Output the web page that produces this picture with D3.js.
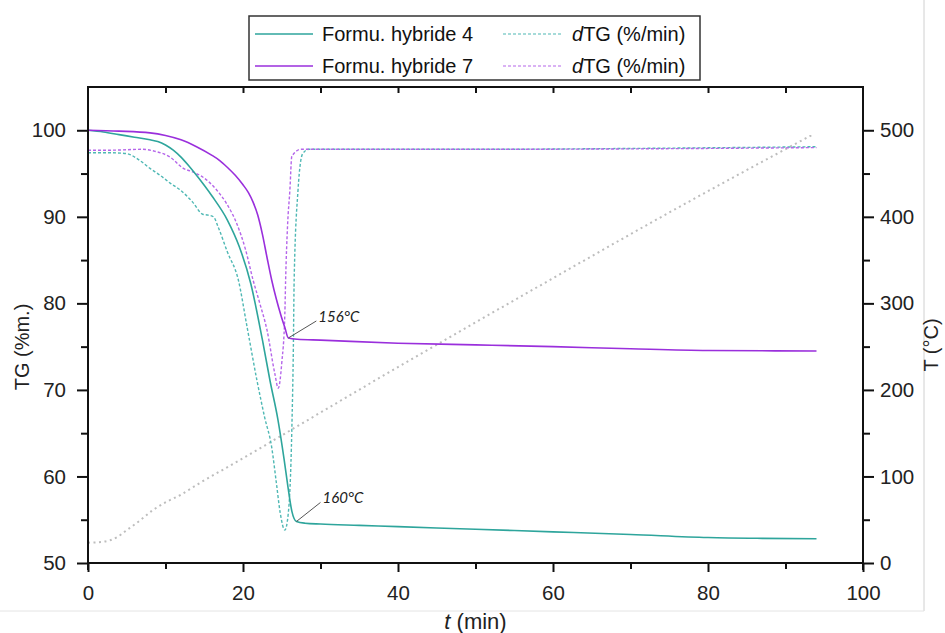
<!DOCTYPE html>
<html>
<head>
<meta charset="utf-8">
<script src="https://cdn.jsdelivr.net/npm/d3@7"></script>
<style>
  html, body { margin: 0; padding: 0; background: #fff; }
  svg { display: block; }
</style>
</head>
<body>
<svg id="chart" width="945" height="633"></svg>
<script>
// ---------- DATA ----------
// Formu. hybride 4 : TG (%m.)
const t_TG4 = [0, 2, 4, 6, 8, 9, 10, 11, 12, 13, 14, 16, 18, 19.5, 21, 22.5, 23.5, 24.5, 25.3, 25.8, 26.3, 26.9, 28, 30, 35, 40, 50, 60, 70, 80, 87, 94];
const TG4   = [100, 99.8, 99.5, 99.2, 98.9, 98.7, 98.3, 97.7, 96.9, 95.9, 94.8, 92.4, 89.6, 86.6, 82.3, 75.8, 71.0, 66.6, 62.0, 58.8, 56.0, 54.8, 54.6, 54.5, 54.35, 54.2, 53.9, 53.6, 53.3, 52.95, 52.85, 52.8];
// Formu. hybride 7 : TG (%m.)
const t_TG7 = [0, 4, 8, 10, 12, 14, 16, 17, 18, 19, 20, 20.7, 21.3, 21.9, 22.5, 23.1, 23.7, 24.3, 24.9, 25.4, 25.85, 27, 30, 40, 50, 60, 70, 80, 94];
const TG7   = [100, 99.9, 99.7, 99.4, 98.9, 98.1, 97.1, 96.5, 95.7, 94.8, 93.7, 92.8, 91.7, 90.2, 88.0, 85.3, 82.7, 80.5, 78.6, 77.2, 76.0, 75.85, 75.75, 75.4, 75.2, 75.0, 74.75, 74.55, 74.5];
// dTG (%/min) curves, drawn in TG-axis units as in the original figure
const t_dTG4 = [0, 3, 5, 6.7, 8, 9.3, 10.6, 11.9, 13.5, 14.8, 15.5, 16.2, 16.8, 18, 19.4, 20.5, 21.8, 22.8, 23.7, 24.3, 24.8, 25.4, 25.85, 26.3, 26.5, 26.6, 27.1, 27.7, 28.5, 35, 50, 70, 94];
const dTG4   = [97.4, 97.4, 97.3, 96.5, 95.6, 94.8, 93.9, 93.1, 91.7, 90.3, 90.2, 90.0, 88.8, 85.9, 82.7, 77.4, 71.1, 66.8, 63.4, 59.3, 55.8, 53.8, 55.8, 65.4, 75.0, 82.7, 93.1, 97.3, 97.8, 97.8, 97.8, 97.9, 98.1];
const t_dTG7 = [0, 3, 7, 8.5, 10.6, 12.3, 13.5, 14.8, 16.6, 17.9, 19.2, 20.3, 21.3, 22.2, 23.1, 24.1, 24.55, 25, 25.4, 25.5, 25.75, 26.05, 26.3, 27.5, 35, 50, 70, 94];
const dTG7   = [97.7, 97.7, 97.8, 97.6, 96.9, 95.6, 95.2, 94.6, 93.1, 91.5, 89.2, 86.3, 82.7, 79.9, 76.9, 71.9, 70.2, 73.1, 78.8, 82.7, 89.0, 93.1, 97.0, 97.8, 97.8, 97.8, 97.85, 98.0];
// Temperature T (°C), right axis
const t_T = [0, 2, 3.7, 5, 6.5, 8.4, 9.9, 11.9, 14.2, 20, 27, 40.3, 59.2, 75, 93.5];
const T   = [23.5, 24.6, 29.6, 38, 47.7, 61.2, 69.6, 78.5, 91.2, 121, 158, 228, 325, 405, 495];

const xTicks = [0, 20, 40, 60, 80, 100];
const yTicks = [50, 60, 70, 80, 90, 100];
const y2Ticks = [0, 100, 200, 300, 400, 500];

const legendLabels = ["Formu. hybride 4", "Formu. hybride 7"];
const annotations = [
  { label: "156°C", t: 25.85, v: 76.0 },
  { label: "160°C", t: 26.9, v: 54.8 }
];

// ---------- STYLE ----------
const teal = "#2ea59c", tealLight = "#4fb8b4";
const purple = "#9a2fdc", purpleLight = "#b566ea";
const font = "'Liberation Sans', Arial, sans-serif";

const svg = d3.select("#chart");
const L = 88, R = 863, Tp = 87, B = 563;

const x = d3.scaleLinear().domain([0, 100]).range([L, R]);
const y = d3.scaleLinear().domain([50, 105]).range([B, Tp]);
const y2 = d3.scaleLinear().domain([0, 550]).range([B, Tp]);

// faint image border
svg.append("line").attr("x1", 924).attr("x2", 924).attr("y1", 0).attr("y2", 611)
  .attr("stroke", "#d0d0d0").attr("stroke-width", 1);
svg.append("line").attr("x1", 0).attr("x2", 924).attr("y1", 611).attr("y2", 611)
  .attr("stroke", "#e4e4e4").attr("stroke-width", 1);

function zip(ts, vs) { return ts.map((t, i) => [t, vs[i]]); }
const lineL = d3.line().x(d => x(d[0])).y(d => y(d[1])).curve(d3.curveMonotoneX);
const lineR = d3.line().x(d => x(d[0])).y(d => y2(d[1])).curve(d3.curveMonotoneX);

// temperature dotted line
svg.append("path").datum(zip(t_T, T)).attr("d", lineR)
  .attr("fill", "none").attr("stroke", "#bdbdbd").attr("stroke-width", 2)
  .attr("stroke-dasharray", "2,3.5").attr("stroke-linecap", "butt");

// dTG dashed lines
svg.append("path").datum(zip(t_dTG4, dTG4)).attr("d", lineL)
  .attr("fill", "none").attr("stroke", tealLight).attr("stroke-width", 1.4)
  .attr("stroke-dasharray", "3,2");
svg.append("path").datum(zip(t_dTG7, dTG7)).attr("d", lineL)
  .attr("fill", "none").attr("stroke", purpleLight).attr("stroke-width", 1.4)
  .attr("stroke-dasharray", "3,2");

// TG solid lines
svg.append("path").datum(zip(t_TG4, TG4)).attr("d", lineL)
  .attr("fill", "none").attr("stroke", teal).attr("stroke-width", 1.6);
svg.append("path").datum(zip(t_TG7, TG7)).attr("d", lineL)
  .attr("fill", "none").attr("stroke", purple).attr("stroke-width", 1.6);

// annotations
const annOff = [[28, -17], [24, -19]];
annotations.forEach((a, i) => {
  const px = x(a.t), py = y(a.v);
  svg.append("line").attr("x1", px).attr("y1", py)
    .attr("x2", px + annOff[i][0]).attr("y2", py + annOff[i][1])
    .attr("stroke", "#555").attr("stroke-width", 1);
  svg.append("text").attr("x", px + annOff[i][0] + 2).attr("y", py + annOff[i][1] + 1)
    .attr("font-family", "Lato, 'Open Sans', sans-serif").attr("font-style", "italic")
    .attr("font-size", 15).attr("fill", "#222").text(a.label);
});

// ---------- AXES ----------
function styleAxis(g) {
  g.select(".domain").remove();
  g.selectAll("line").attr("stroke", "#111").attr("stroke-width", 2);
  g.selectAll("text").attr("font-family", font).attr("font-size", 20.5).attr("fill", "#222");
}
// bottom
const gx = svg.append("g").attr("transform", `translate(0,${B})`)
  .call(d3.axisBottom(x).tickValues(xTicks).tickSize(9).tickPadding(13).tickFormat(d3.format("d")));
styleAxis(gx);
const gxm = svg.append("g").attr("transform", `translate(0,${B})`)
  .call(d3.axisBottom(x).tickValues([10, 30, 50, 70, 90]).tickSize(6).tickFormat(""));
styleAxis(gxm);
// top (inward ticks)
const gt = svg.append("g").attr("transform", `translate(0,${Tp})`)
  .call(d3.axisBottom(x).tickValues(d3.range(10, 100, 10)).tickSize(6).tickFormat(""));
styleAxis(gt);
// left
const gy = svg.append("g").attr("transform", `translate(${L},0)`)
  .call(d3.axisLeft(y).tickValues(yTicks).tickSize(11).tickPadding(11).tickFormat(d3.format("d")));
styleAxis(gy);
const gym = svg.append("g").attr("transform", `translate(${L},0)`)
  .call(d3.axisLeft(y).tickValues([55, 65, 75, 85, 95]).tickSize(7).tickFormat(""));
styleAxis(gym);
// right
const gy2 = svg.append("g").attr("transform", `translate(${R},0)`)
  .call(d3.axisRight(y2).tickValues(y2Ticks).tickSize(11).tickPadding(6).tickFormat(d3.format("d")));
styleAxis(gy2);
const gy2m = svg.append("g").attr("transform", `translate(${R},0)`)
  .call(d3.axisRight(y2).tickValues([50, 150, 250, 350, 450]).tickSize(7).tickFormat(""));
styleAxis(gy2m);

// frame lines
const frame = svg.append("g").attr("stroke", "#111").attr("stroke-width", 2).attr("stroke-linecap", "square");
frame.append("line").attr("x1", L).attr("x2", R).attr("y1", B).attr("y2", B);
frame.append("line").attr("x1", L).attr("x2", R).attr("y1", Tp).attr("y2", Tp);
frame.append("line").attr("x1", L).attr("x2", L).attr("y1", Tp).attr("y2", B + 6);
frame.append("line").attr("x1", R).attr("x2", R).attr("y1", Tp).attr("y2", B + 6);

// axis titles
svg.append("text").attr("transform", `translate(29,347) rotate(-90)`)
  .attr("text-anchor", "middle").attr("font-family", font).attr("font-size", 20).attr("fill", "#222")
  .text("TG (%m.)");
svg.append("text").attr("transform", `translate(938,345) rotate(-90)`)
  .attr("text-anchor", "middle").attr("font-family", font).attr("font-size", 20).attr("fill", "#222")
  .text("T (°C)");
const xt = svg.append("text").attr("x", (L + R) / 2).attr("y", 629)
  .attr("text-anchor", "middle").attr("font-family", font).attr("font-size", 22).attr("fill", "#222");
xt.append("tspan").attr("font-style", "italic").text("t");
xt.append("tspan").text(" (min)");

// ---------- LEGEND ----------
const lg = svg.append("g");
lg.append("rect").attr("x", 249).attr("y", 16).attr("width", 451).attr("height", 64)
  .attr("fill", "#fff").attr("stroke", "#333").attr("stroke-width", 1.5);
const rowsY = [34, 66];
const solidCols = [teal, purple], dashCols = [tealLight, purpleLight];
legendLabels.forEach((lab, i) => {
  const yy = rowsY[i];
  lg.append("line").attr("x1", 255).attr("x2", 313).attr("y1", yy).attr("y2", yy)
    .attr("stroke", solidCols[i]).attr("stroke-width", 1.6);
  lg.append("text").attr("x", 322).attr("y", yy + 7).attr("font-family", font)
    .attr("font-size", 20).attr("fill", "#111").text(lab);
  lg.append("line").attr("x1", 503).attr("x2", 563).attr("y1", yy).attr("y2", yy)
    .attr("stroke", dashCols[i]).attr("stroke-width", 1.2).attr("stroke-dasharray", "3,2");
  const tx = lg.append("text").attr("x", 572).attr("y", yy + 7).attr("font-family", font)
    .attr("font-size", 20).attr("fill", "#111");
  tx.append("tspan").attr("font-style", "italic").text("d");
  tx.append("tspan").text("TG (%/min)");
});
</script>
</body>
</html>
